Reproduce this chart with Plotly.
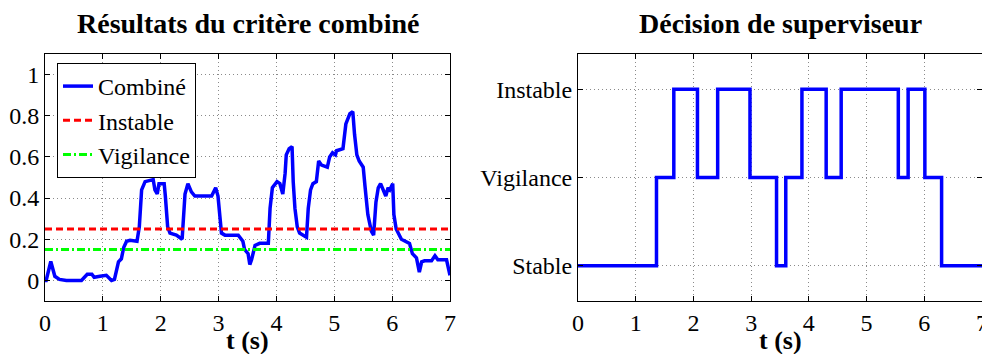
import plotly.graph_objects as go

# ---- data ----
t_comb = [0.00, 0.02, 0.10, 0.17, 0.25, 0.37, 0.63, 0.73, 0.81, 0.85,
          0.95, 1.06, 1.15, 1.20, 1.27, 1.32, 1.36, 1.41, 1.47, 1.59,
          1.63, 1.67, 1.73, 1.87, 1.90, 1.94, 1.97, 2.06, 2.08, 2.12,
          2.16, 2.27, 2.37, 2.42, 2.47, 2.53, 2.59, 2.88, 2.95, 2.99,
          3.05, 3.11, 3.34, 3.42, 3.45, 3.51, 3.54, 3.57, 3.63, 3.71,
          3.86, 3.89, 3.93, 4.01, 4.06, 4.11, 4.15, 4.17, 4.22, 4.27,
          4.29, 4.32, 4.36, 4.40, 4.52, 4.55, 4.59, 4.63, 4.69, 4.73,
          4.78, 4.88, 4.92, 4.97, 5.02, 5.04, 5.15, 5.20, 5.27, 5.32,
          5.35, 5.39, 5.43, 5.50, 5.53, 5.58, 5.64, 5.68, 5.72, 5.76,
          5.80, 5.89, 5.93, 5.96, 6.01, 6.03, 6.07, 6.16, 6.30, 6.35,
          6.42, 6.47, 6.51, 6.56, 6.68, 6.74, 6.79, 6.94, 7.00]
v_comb = [0.000, 0.000, 0.092, 0.020, 0.005, 0.000, 0.000, 0.030, 0.030, 0.015,
          0.020, 0.025, 0.000, 0.005, 0.090, 0.105, 0.160, 0.190, 0.195, 0.190,
          0.260, 0.440, 0.480, 0.490, 0.440, 0.420, 0.470, 0.470, 0.410, 0.260,
          0.230, 0.220, 0.200, 0.420, 0.470, 0.430, 0.410, 0.410, 0.450, 0.410,
          0.230, 0.220, 0.220, 0.190, 0.150, 0.130, 0.077, 0.100, 0.170, 0.180,
          0.180, 0.350, 0.450, 0.480, 0.470, 0.420, 0.520, 0.610, 0.640, 0.650,
          0.480, 0.350, 0.260, 0.230, 0.210, 0.350, 0.440, 0.470, 0.480, 0.580,
          0.560, 0.550, 0.600, 0.620, 0.610, 0.630, 0.640, 0.760, 0.810, 0.820,
          0.710, 0.610, 0.580, 0.550, 0.460, 0.320, 0.240, 0.220, 0.380, 0.450,
          0.470, 0.410, 0.450, 0.440, 0.470, 0.320, 0.250, 0.200, 0.180, 0.130,
          0.110, 0.040, 0.090, 0.095, 0.095, 0.120, 0.100, 0.100, 0.025]
assert len(t_comb) == len(v_comb)

thr_instable = 0.25
thr_vigilance = 0.15
t_span = [0, 7]

t_dec = [0, 1.36, 1.66, 2.07, 2.42, 2.98, 3.44, 3.60, 3.88, 4.30, 4.56, 5.55, 5.72, 6.01, 6.30, 7.0]
lvl_dec = [0, 1, 2, 1, 2, 1, 0, 1, 2, 1, 2, 1, 2, 1, 0, 0]
dec_labels = ["Stable", "Vigilance", "Instable"]

x_ticks = [0, 1, 2, 3, 4, 5, 6, 7]
y_ticks_left = [0, 0.2, 0.4, 0.6, 0.8, 1]
y_ticklabels_left = ["0", "0.2", "0.4", "0.6", "0.8", "1"]

titles = ["Résultats du critère combiné", "Décision de superviseur"]
x_title = "t (s)"

# ---- figure ----
W, H = 982, 354
FONT = "'Liberation Serif', 'Times New Roman', Times, serif"
BLUE, RED, GREEN = "#0000ff", "#ff0000", "#00ff00"

fig = go.Figure()
fig.add_trace(go.Scatter(x=t_comb, y=v_comb, mode="lines", name="Combiné",
                         line=dict(color=BLUE, width=3.5), xaxis="x", yaxis="y"))
fig.add_trace(go.Scatter(x=t_span, y=[thr_instable] * 2, mode="lines", name="Instable",
                         line=dict(color=RED, width=3, dash="7px,4px"), xaxis="x", yaxis="y"))
fig.add_trace(go.Scatter(x=t_span, y=[thr_vigilance] * 2, mode="lines", name="Vigilance",
                         line=dict(color=GREEN, width=3, dash="8px,3px,2px,3px"), xaxis="x", yaxis="y"))
fig.add_trace(go.Scatter(x=t_dec, y=lvl_dec, mode="lines", line_shape="hv", showlegend=False,
                         line=dict(color=BLUE, width=3.5), xaxis="x2", yaxis="y2"))

ydom = [1 - 301 / H, 1 - 54 / H]
axis_common = dict(showline=True, linecolor="black", linewidth=1, mirror="ticks",
                   ticks="inside", ticklen=5, tickcolor="black", tickwidth=1,
                   showgrid=True, gridcolor="#8a8a8a", griddash="1px,3px", gridwidth=1,
                   zeroline=False, automargin=False, ticklabeloverflow="allow",
                   tickfont=dict(family=FONT, size=24, color="black"))

fig.update_layout(
    width=W, height=H,
    margin=dict(l=0, r=0, t=0, b=0),
    paper_bgcolor="white", plot_bgcolor="white",
    font=dict(family=FONT, size=24, color="black"),
    xaxis=dict(domain=[45 / W, 450 / W], range=[0, 7], tickvals=x_ticks, anchor="y", **axis_common),
    yaxis=dict(domain=ydom, range=[-0.1, 1.1], tickvals=y_ticks_left,
               ticktext=y_ticklabels_left, anchor="x", **axis_common),
    xaxis2=dict(domain=[578 / W, 1.0], range=[0, 7], tickvals=x_ticks, anchor="y2", **axis_common),
    yaxis2=dict(domain=ydom, range=[-0.4, 2.4], tickvals=[0, 1, 2],
                ticktext=dec_labels, anchor="x2", **axis_common),
    showlegend=True,
    legend=dict(x=57 / W, y=1 - 63 / H, xanchor="left", yanchor="top",
                bgcolor="white", bordercolor="black", borderwidth=1,
                font=dict(family=FONT, size=24, color="black"),
                tracegroupgap=0),
)

for i, ttl in enumerate(titles):
    xr = "x domain" if i == 0 else "x2 domain"
    fig.add_annotation(text="<b>%s</b>" % ttl, xref=xr, x=0.5, yref="paper", y=1 - 23 / H,
                       showarrow=False, xanchor="center", yanchor="middle",
                       font=dict(family=FONT, size=28, color="black"))
    fig.add_annotation(text="<b>%s</b>" % x_title, xref=xr, x=0.5, yref="paper", y=1 - 340 / H,
                       showarrow=False, xanchor="center", yanchor="middle",
                       font=dict(family=FONT, size=26, color="black"))

fig.write_html("out.html", config={"displayModeBar": False},
               post_script="document.body.style.margin='0';document.body.style.overflow='hidden';")
